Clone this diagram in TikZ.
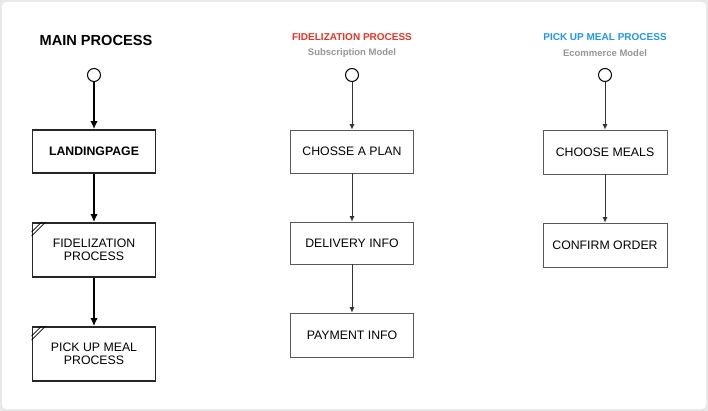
\documentclass[tikz,border=0pt]{standalone}
\usepackage{fontspec}
\setmainfont{Liberation Sans}
\usetikzlibrary{arrows.meta}
\usetikzlibrary{calc}

\definecolor{fidred}{RGB}{232,52,38}
\definecolor{pickblue}{RGB}{32,150,236}
\definecolor{subgray}{RGB}{150,150,150}

\begin{document}
\begin{tikzpicture}[x=1pt, y=-1pt, line/.style={>={Latex[length=8pt, width=7.5pt]}},
  thinline/.style={>={Latex[length=5.5pt, width=5pt]}},
  mainbox/.style={draw=black!85, line width=1.9pt, minimum width=123pt, minimum height=43pt, align=center, font=\fontsize{12.3}{13.5}\selectfont},
  subbox/.style={draw=black!65, line width=0.8pt, minimum width=123pt, minimum height=43pt, align=center, font=\fontsize{12.3}{14}\selectfont},
  start/.style={circle, draw=black, line width=1pt, minimum size=13pt, inner sep=0pt}] 

% card
\fill[black!9] (0, 0) rectangle (708, 411);
\fill[white, rounded corners=4pt] (2, 2) rectangle (706, 409);

% main process
\node (mainttl) at (96, 40) {\fontsize{14.6}{17}\selectfont\bfseries MAIN PROCESS};
\node[start] (s1) at (94, 75) {};
\node[mainbox] (land) at (94, 151.5) {\bfseries LANDINGPAGE};
\node[mainbox, minimum height=54pt] (fid) at (94, 250) {FIDELIZATION\\PROCESS};
\node[mainbox, minimum height=54pt] (pick) at (94, 354) {PICK UP MEAL\\PROCESS};
\draw[->, line, line width=1.5pt] (s1) -- (land);
\draw[->, line, line width=1.5pt] (land) -- (fid);
\draw[->, line, line width=1.5pt] (fid) -- (pick);
\foreach \b in {fid, pick} {
  \draw[line width=0.8pt] ($(\b.north west)+(0, 10)$) -- ($(\b.north west)+(10, 0)$);
  \draw[line width=0.8pt] ($(\b.north west)+(0, 14)$) -- ($(\b.north west)+(14, 0)$);
}

% fidelization process
\node[text=fidred] (fidttl) at (352, 37) {\fontsize{10}{12}\selectfont\bfseries FIDELIZATION PROCESS};
\node[text=subgray] (fidsub) at (352, 53) {\fontsize{9.5}{11}\selectfont\bfseries Subscription Model};
\node[start] (s2) at (352, 75) {};
\node[subbox] (plan) at (352, 151.5) {CHOSSE A PLAN};
\node[subbox, minimum height=42pt] (delivery) at (352, 243) {DELIVERY INFO};
\node[subbox, minimum height=44pt] (payment) at (352, 335) {PAYMENT INFO};
\draw[->, thinline, line width=0.8pt, black!80] (s2) -- (plan);
\draw[->, thinline, line width=0.8pt, black!80] (plan) -- (delivery);
\draw[->, thinline, line width=0.8pt, black!80] (delivery) -- (payment);

% pick up meal process
\node[text=pickblue] (pickttl) at (605, 37) {\fontsize{10}{12}\selectfont\bfseries PICK UP MEAL PROCESS};
\node[text=subgray] (picksub) at (605, 53) {\fontsize{9.5}{11}\selectfont\bfseries Ecommerce Model};
\node[start] (s3) at (605, 75) {};
\node[subbox, minimum width=124pt, minimum height=44pt] (meals) at (605, 152) {CHOOSE MEALS};
\node[subbox, minimum width=124pt, minimum height=44pt] (confirm) at (605, 245) {CONFIRM ORDER};
\draw[->, thinline, line width=0.8pt, black!80] (s3) -- (meals);
\draw[->, thinline, line width=0.8pt, black!80] (meals) -- (confirm);

\end{tikzpicture}
\end{document}
